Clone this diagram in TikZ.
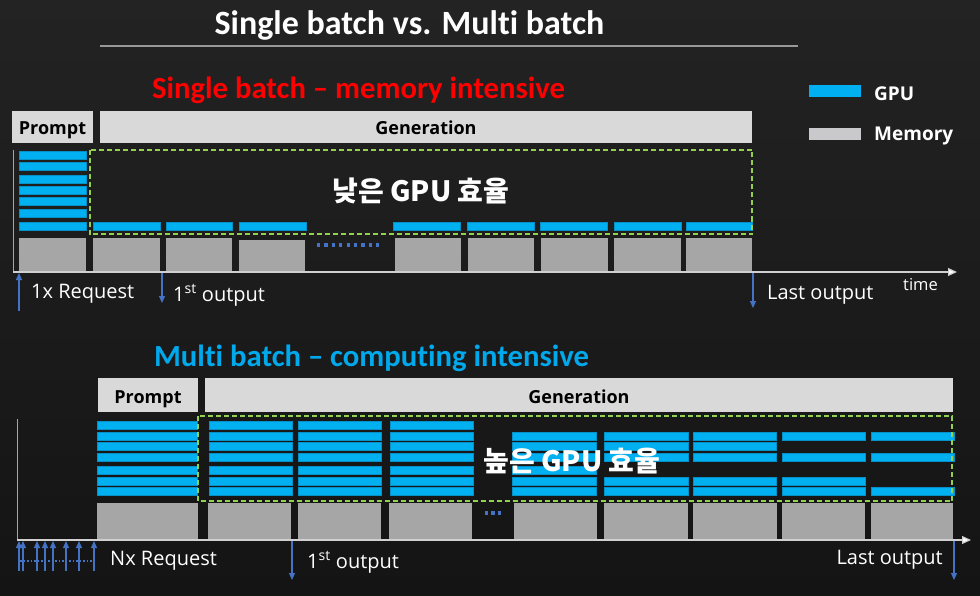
\documentclass[tikz,border=0pt]{standalone}
\usepackage{fontspec}
\setmainfont{Open Sans}
\newfontfamily\calfont[Ligatures={NoCommon}]{Carlito}
\newfontfamily\krfont{Noto Sans CJK KR}
\usetikzlibrary{arrows.meta}
\definecolor{gpu}{HTML}{00B0F0}
\definecolor{gpuedge}{HTML}{0590C8}
\definecolor{mem}{HTML}{A6A6A6}
\definecolor{memedge}{HTML}{BEBEBE}
\definecolor{hdr}{HTML}{D9D9D9}
\definecolor{legmem}{HTML}{C9C9CB}
\definecolor{effgreen}{HTML}{92D050}
\definecolor{arrblue}{HTML}{4472C4}
\definecolor{bgtop}{HTML}{232323}
\definecolor{bgbot}{HTML}{141414}
\definecolor{axisgray}{HTML}{D0D0D0}
\definecolor{headblue}{HTML}{00A8EC}
\tikzset{
  gpubar/.style={fill=gpu, draw=gpuedge, line width=0.5pt},
  memblock/.style={fill=mem, draw=memedge, line width=0.5pt},
  hdrbox/.style={fill=hdr},
  effbox/.style={draw=effgreen, line width=2pt, dash pattern=on 5pt off 3pt},
  timeaxis/.style={draw=axisgray, line width=1.2pt, -{Triangle[length=9pt,width=8pt,fill=white]}},
  vaxis/.style={draw=gray!70, line width=0.8pt},
  reqarrow/.style={draw=arrblue, line width=1.2pt, -{Triangle[length=7pt,width=6pt]}},
  hdrtext/.style={font=\fontsize{18}{20}\selectfont\bfseries, text=black, anchor=base, inner sep=0pt},
  lbltext/.style={font=\fontsize{20}{22}\selectfont, text=white, anchor=base west, inner sep=0pt},
  headtext/.style={font=\calfont\bfseries\fontsize{30.7}{34}\selectfont, anchor=base, inner sep=0pt},
  eff/.style={font=\krfont\bfseries\fontsize{28}{30}\selectfont, text=white, inner sep=0pt},
}
\begin{document}
\begin{tikzpicture}[x=1pt,y=-1pt]
\useasboundingbox (0,0) rectangle (980,596);
\shade[top color=bgtop, bottom color=bgbot] (0,0) rectangle (980,596);

% Title
\node[font=\calfont\bfseries\fontsize{34}{38}\selectfont, text=white, anchor=base, inner sep=0pt] (title) at (409.5,35) {Single batch vs. Multi batch};
\coordinate (ruleL) at (100,46);
\coordinate (ruleR) at (798,46);
\draw[draw=gray!80, line width=1.5pt] (ruleL) -- (ruleR);

% Legend
\fill[gpu] (809,85) rectangle (861,97);
\node[font=\fontsize{19}{21}\selectfont\bfseries, text=white, anchor=base west, inner sep=0pt] (legGPU) at (874,100.7) {GPU};
\fill[legmem] (809,128) rectangle (861,140);
\node[font=\fontsize{19}{21}\selectfont\bfseries, text=white, anchor=base west, inner sep=0pt] (legMem) at (874,140.7) {Memory};

% ================= Single batch =================
\node[headtext, text=red] (sbTitle) at (358.5,99) {Single batch – memory intensive};

\fill[hdrbox] (12,111) rectangle (93,143);
\node[hdrtext] (sPrompt) at (52.5,134.5) {Prompt};
\fill[hdrbox] (100,111) rectangle (752,143);
\node[hdrtext] (sGen) at (426,134.5) {Generation};

% axes
\coordinate (sV0) at (13,150);
\coordinate (sO) at (13,272);
\coordinate (sT) at (957,272);
\draw[vaxis] (sV0) -- (sO);

% prompt GPU bars
\foreach \y in {151,162,175,186,197,209,222}
  \filldraw[gpubar] (19,\y) rectangle (86,\y+8.6);
% generation GPU bars
\foreach \a/\b in {93/160,166/232,239/306,393/460,467/534,540/607,614/681,686/752}
  \filldraw[gpubar] (\a,222) rectangle (\b,230.6);
% memory blocks
\foreach \a/\b/\t in {19/86/238,93/160/238,166/232/238,239/305/240,395/461/238,468/534/238,541/608/238,614/681/238,686/752/238}
  \fill[mem] (\a,\t) rectangle (\b,271.5);
\coordinate (sDotA) at (317,245);
\coordinate (sDotB) at (383,245);
\draw[arrblue, line width=3.2pt, dash pattern=on 3.2pt off 4.2pt] (sDotA) -- (sDotB);

\draw[effbox] (89.5,150) rectangle (752,234.5);
\node[eff] (lowEff) at (421,191) {낮은 GPU 효율};

\draw[timeaxis] (sO) -- (sT);
\node[font=\fontsize{16.5}{18}\selectfont, text=white, anchor=base west, inner sep=0pt] (sTime) at (903,290.7) {time};

% request / output arrows
\coordinate (sReqB) at (19,311);
\coordinate (sReqT) at (19,273);
\draw[reqarrow] (sReqB) -- (sReqT);
\node[lbltext] (sReq) at (31,298.3) {1x Request};
\coordinate (sF0) at (162,273);
\coordinate (sF1) at (162,303);
\draw[reqarrow] (sF0) -- (sF1);
\node[lbltext] (sFirst) at (173,301) {1\textsuperscript{st} output};
\coordinate (sL0) at (753,273);
\coordinate (sL1) at (753,308);
\draw[reqarrow] (sL0) -- (sL1);
\node[lbltext] (sLast) at (767,299) {Last output};

% ================= Multi batch =================
\node[headtext, text=headblue] (mbTitle) at (371.5,366) {Multi batch – computing intensive};

\fill[hdrbox] (98,378) rectangle (198,412);
\node[hdrtext] (mPrompt) at (148,403.5) {Prompt};
\fill[hdrbox] (205,378) rectangle (953,412);
\node[hdrtext] (mGen) at (579,403.5) {Generation};

\coordinate (mV0) at (17,419);
\coordinate (mO) at (17,540);
\coordinate (mT) at (971,540);
\draw[vaxis] (mV0) -- (mO);

% prompt bars
\foreach \y in {421,432,442,453,466,477,487}
  \filldraw[gpubar] (97,\y) rectangle (197,\y+8);
% full generation columns
\foreach \a/\b in {209/292,298/381,390/473}
  \foreach \y in {421,432,442,453,466,477,487}
    \filldraw[gpubar] (\a,\y) rectangle (\b,\y+8);
% partial columns
\foreach \y in {432,442,453,466,477,487}
  \filldraw[gpubar] (512,\y) rectangle (596,\y+8);
\foreach \a/\b in {604/688,693/776}
  \foreach \y in {432,442,453,477,487}
    \filldraw[gpubar] (\a,\y) rectangle (\b,\y+8);
\foreach \y in {432,453,477,487}
  \filldraw[gpubar] (782,\y) rectangle (865,\y+8);
\foreach \y in {432,453,487}
  \filldraw[gpubar] (871,\y) rectangle (954,\y+8);

% memory blocks
\foreach \a/\b in {97/198,208/291,298/381,389/472,514/597,604/688,693/777,782/865,871/953}
  \fill[mem] (\a,502.5) rectangle (\b,539.5);
\coordinate (mDotA) at (485,513);
\coordinate (mDotB) at (502,513);
\draw[arrblue, line width=3.2pt, dash pattern=on 3.2pt off 3.2pt] (mDotA) -- (mDotB);

\draw[effbox] (197.5,416) rectangle (952,501);
\node[eff] (highEff) at (572,461) {높은 GPU 효율};

\draw[timeaxis] (mO) -- (mT);

% Nx request arrows
\foreach \x [count=\i] in {19,23,37,45,53,66,79,94} {
  \coordinate (nb\i) at (\x,571);
  \coordinate (nt\i) at (\x,541);
  \draw[reqarrow] (nb\i) -- (nt\i);
}
\coordinate (nDotA) at (20,561);
\coordinate (nDotB) at (94,561);
\draw[arrblue, line width=1.2pt, dash pattern=on 1.5pt off 2pt] (nDotA) -- (nDotB);
\node[lbltext] (mReq) at (110,565) {Nx Request};

\coordinate (mF0) at (292,541);
\coordinate (mF1) at (292,580);
\draw[reqarrow] (mF0) -- (mF1);
\node[lbltext] (mFirst) at (307,568) {1\textsuperscript{st} output};
\coordinate (mL0) at (954,541);
\coordinate (mL1) at (954,580);
\draw[reqarrow] (mL0) -- (mL1);
\node[lbltext, anchor=base east] (mLast) at (943,564) {Last output};
\end{tikzpicture}
\end{document}
